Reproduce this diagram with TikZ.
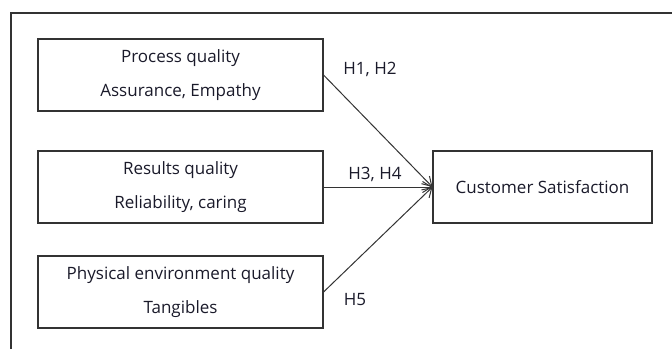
\documentclass[tikz,border=0pt]{standalone}
\usepackage{fontspec}
\setmainfont{Open Sans}
\usepackage{xcolor}
\usetikzlibrary{arrows.meta}
\definecolor{line}{HTML}{333333}
\definecolor{ink}{HTML}{1A1A2A}
\tikzset{
  frame/.style={draw=line, line width=1.1pt},
  factor/.style={draw=line, line width=1.1pt, minimum width=285pt, minimum height=72pt,
    align=center, text=ink, font=\fontsize{17}{34}\selectfont, inner sep=0pt},
  link/.style={draw=line, line width=1pt, -{Straight Barb[length=9pt,width=11pt]}},
  hyp/.style={text=ink, font=\fontsize{17}{20}\selectfont, inner sep=0pt},
}

\begin{document}
\begin{tikzpicture}[x=1pt,y=-1pt]
  \useasboundingbox (0,0) rectangle (672,349);
  \draw[frame] (11,349) -- (11,13) -- (672,13);

  \node[factor] (proc) at (180.5,75) {Process quality\\Assurance, Empathy};
  \node[factor] (result) at (180.5,187) {Results quality\\Reliability, caring};
  \node[factor] (phys) at (180.5,292) {Physical environment quality\\Tangibles};
  \node[factor, minimum width=219pt] (satis) at (542.5,187) {Customer Satisfaction};

  \draw[link] (proc.east) -- (satis.west);
  \draw[link] (result.east) -- (satis.west);
  \draw[link] (phys.east) -- (satis.west);

  \node[hyp] (h12) at (370,69) {H1, H2};
  \node[hyp] (h34) at (375,174) {H3, H4};
  \node[hyp] (h5) at (355,300) {H5};
\end{tikzpicture}
\end{document}
